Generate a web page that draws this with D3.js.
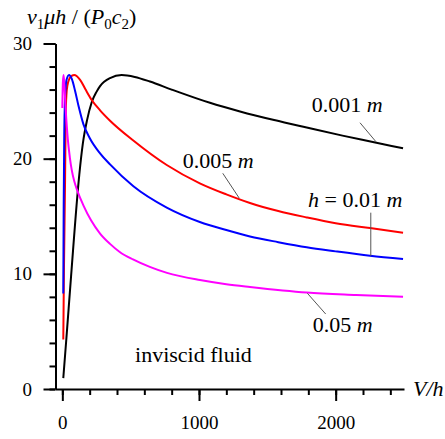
<!DOCTYPE html>
<html>
<head>
<meta charset="utf-8">
<script src="https://cdn.jsdelivr.net/npm/d3@7"></script>
<style>
  html, body { margin: 0; padding: 0; background: #fff; }
  svg { display: block; }
  svg text { font-family: "Liberation Serif", "Times New Roman", serif; }
</style>
</head>
<body>
<div id="chart"></div>
<script>
// V/h values and v1*mu*h/(P0*c2) for each gap height
const blackV = [7, 30, 64, 124, 150, 180, 215, 250, 276, 349, 434, 530, 641, 800, 1080, 1300, 1550, 1788, 2050, 2272, 2493];
const blackVal = [0.95, 4.45, 9.8, 18.6, 21.3, 23.3, 24.9, 25.8, 26.3, 27.0, 27.26, 27.1, 26.7, 26.0, 24.85, 24.1, 23.35, 22.7, 22.0, 21.45, 20.9];

const redV = [7, 12, 20, 25, 32, 44, 60, 86, 130, 170, 215, 276, 349, 517, 764, 1006, 1200, 1373, 1580, 1788, 2000, 2251, 2493];
const redVal = [4.3, 10.5, 18.1, 24.0, 25.9, 26.7, 27.1, 27.26, 26.85, 26.0, 25.1, 24.2, 23.3, 21.6, 19.45, 17.86, 16.9, 16.15, 15.45, 14.9, 14.4, 13.97, 13.57];

const blueV = [7, 10, 14, 20, 30, 49, 70, 93, 120, 154, 200, 276, 349, 520, 764, 1006, 1200, 1373, 1580, 1788, 2000, 2251, 2493];
const blueVal = [8.3, 16.0, 22.0, 25.2, 26.8, 27.26, 26.9, 25.9, 24.5, 23.0, 21.8, 20.46, 19.5, 17.6, 15.75, 14.5, 13.8, 13.25, 12.75, 12.3, 11.95, 11.57, 11.28];

const magentaV = [0, 4, 9, 15, 25, 40, 55, 69, 86, 110, 154, 210, 276, 349, 420, 517, 640, 766, 1007, 1200, 1373, 1788, 2150, 2493];
const magentaVal = [24.4, 26.6, 27.26, 26.4, 24.2, 21.7, 20.1, 19.0, 18.1, 17.2, 15.95, 14.65, 13.5, 12.6, 11.9, 11.25, 10.6, 10.08, 9.46, 9.1, 8.86, 8.38, 8.17, 8.01];

const xMinorTicks = d3.range(0, 2401, 200);
const xMajorTicks = [0, 1000, 2000];
const yMinorTicks = d3.range(0, 31, 2);
const yMajorTicks = [0, 10, 20, 30];

const width = 445;
const height = 439;
const serif = '"Liberation Serif", "Times New Roman", serif';

const svg = d3.select('#chart').append('svg')
  .attr('width', width)
  .attr('height', height);

const x = d3.scaleLinear().domain([-50, 2500]).range([55.5, 404]);
const y = d3.scaleLinear().domain([0, 30]).range([389, 43.5]);

// x axis: minor ticks, then major ticks with labels
svg.append('g')
  .attr('transform', `translate(0,${y(0)})`)
  .call(d3.axisBottom(x).tickValues(xMinorTicks).tickSize(6).tickSizeOuter(0).tickFormat(''))
  .call(g => g.select('.domain').attr('stroke-width', 2));

svg.append('g')
  .attr('transform', `translate(0,${y(0)})`)
  .attr('font-family', serif)
  .call(d3.axisBottom(x).tickValues(xMajorTicks).tickSize(12).tickSizeOuter(0).tickFormat(d3.format('d')))
  .call(g => g.select('.domain').remove())
  .call(g => g.selectAll('text')
    .attr('font-size', 19)
    .attr('fill', '#000')
    .attr('y', 40)
    .attr('dy', null));

// y axis
svg.append('g')
  .attr('transform', `translate(${x(-50)},0)`)
  .call(d3.axisLeft(y).tickValues(yMinorTicks).tickSize(6).tickSizeOuter(0).tickFormat(''))
  .call(g => g.select('.domain').attr('stroke-width', 2));

svg.append('g')
  .attr('transform', `translate(${x(-50)},0)`)
  .attr('font-family', serif)
  .call(d3.axisLeft(y).tickValues(yMajorTicks).tickSize(12).tickSizeOuter(0).tickPadding(11.5))
  .call(g => g.select('.domain').remove())
  .call(g => g.selectAll('text').attr('font-size', 19).attr('fill', '#000'));

svg.selectAll('.tick line').attr('stroke-width', 2);

// curves
const line = d3.line()
  .x(d => x(d[0]))
  .y(d => y(d[1]))
  .curve(d3.curveMonotoneX);

const series = [
  { vs: blackV, vals: blackVal, color: '#000000' },
  { vs: redV, vals: redVal, color: '#ff0000' },
  { vs: blueV, vals: blueVal, color: '#0000ff' },
  { vs: magentaV, vals: magentaVal, color: '#ff00ff' }
];

series.forEach(s => {
  svg.append('path')
    .datum(s.vs.map((v, i) => [v, s.vals[i]]))
    .attr('fill', 'none')
    .attr('stroke', s.color)
    .attr('stroke-width', 2)
    .attr('d', line);
});

// leader lines
const leaders = [
  [[2178, 23.12], [2295, 21.47]],
  [[1174, 18.73], [1295, 16.56]],
  [[2257, 15.31], [2257, 11.55]],
  [[1793, 8.31], [1927, 6.51]]
];
leaders.forEach(l => {
  svg.append('line')
    .attr('x1', x(l[0][0])).attr('y1', y(l[0][1]))
    .attr('x2', x(l[1][0])).attr('y2', y(l[1][1]))
    .attr('stroke', '#555')
    .attr('stroke-width', 1);
});

// labels: parts are [text, italic]
function label(px, py, parts) {
  const t = svg.append('text')
    .attr('x', px).attr('y', py)
    .attr('font-family', serif)
    .attr('font-size', 22)
    .attr('fill', '#000')
    .attr('xml:space', 'preserve');
  parts.forEach(p => {
    t.append('tspan')
      .attr('font-style', p[1] ? 'italic' : 'normal')
      .text(p[0]);
  });
}

label(x(1825), y(24.08), [['0.001 ', false], ['m', true]]);
label(x(881), y(19.16), [['0.005 ', false], ['m', true]]);
label(x(1798), y(15.83), [['h', true], [' = 0.01 ', false], ['m', true]]);
label(x(1832), y(4.98), [['0.05 ', false], ['m', true]]);
label(x(532), y(2.37), [['inviscid fluid', false]]);

// axis titles
label(413, 396, [['V/h', true]]);

const yt = svg.append('text')
  .attr('x', 27).attr('y', 24)
  .attr('font-family', serif)
  .attr('font-size', 22)
  .attr('fill', '#000')
  .attr('xml:space', 'preserve');
yt.append('tspan').attr('font-style', 'italic').text('v');
yt.append('tspan').attr('font-size', 15).attr('dy', 5).text('1');
yt.append('tspan').attr('font-style', 'italic').attr('dy', -5).text('\u03bch');
yt.append('tspan').text(' / (');
yt.append('tspan').attr('font-style', 'italic').text('P');
yt.append('tspan').attr('font-size', 15).attr('dy', 5).text('0');
yt.append('tspan').attr('font-style', 'italic').attr('dy', -5).text('c');
yt.append('tspan').attr('font-size', 15).attr('dy', 5).text('2');
yt.append('tspan').attr('dy', -5).text(')');
</script>
</body>
</html>
